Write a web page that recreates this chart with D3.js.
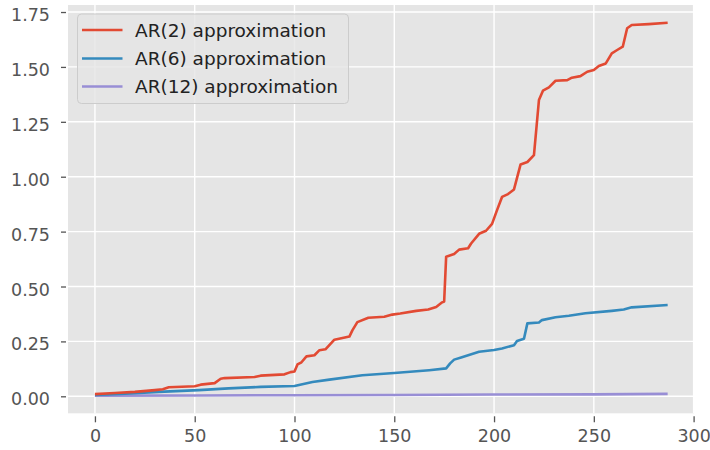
<!DOCTYPE html>
<html>
<head>
<meta charset="utf-8">
<script src="https://cdn.jsdelivr.net/npm/d3@7"></script>
<style>
  html, body { margin: 0; padding: 0; background: #ffffff; }
  svg { display: block; }
  text { font-family: "DejaVu Sans", sans-serif; }
</style>
</head>
<body>
<svg id="chart" width="710" height="450"></svg>
<script>
// AR(2) cumulative error
const ar2X = [0, 10, 20, 30, 34, 37, 50, 53, 60, 63, 65, 80, 83, 95, 98, 100, 101.5, 103.5, 106, 110,
  112.5, 115.5, 120, 127.5, 129, 131.5, 137, 145, 149, 153, 161, 167, 171, 174, 175, 176, 180, 182.5,
  187, 188.5, 192.5, 196, 199, 201.5, 204, 207, 210, 213.3, 216.7, 220, 222.5, 224.5, 227.5, 230.8,
  236.7, 239, 243.3, 246.7, 250, 252.5, 256, 259, 261.7, 264.5, 266.7, 269, 277.5, 287];
const ar2Y = [0.010, 0.015, 0.020, 0.028, 0.032, 0.041, 0.046, 0.053, 0.060, 0.080, 0.083, 0.088, 0.094,
  0.100, 0.110, 0.113, 0.145, 0.155, 0.182, 0.187, 0.210, 0.214, 0.258, 0.272, 0.300, 0.338, 0.358,
  0.362, 0.372, 0.377, 0.389, 0.395, 0.407, 0.428, 0.432, 0.636, 0.648, 0.668, 0.674, 0.696, 0.740,
  0.754, 0.785, 0.848, 0.908, 0.921, 0.942, 1.056, 1.067, 1.098, 1.349, 1.392, 1.407, 1.437, 1.440,
  1.451, 1.458, 1.478, 1.486, 1.504, 1.516, 1.562, 1.577, 1.592, 1.676, 1.691, 1.695, 1.701];

// AR(6) cumulative error
const ar6X = [0, 15, 32, 52, 67, 83, 100, 109, 117.5, 134, 150, 167.5, 176, 178, 180, 183.5, 192.5, 200,
  204, 210, 211.5, 215, 216.7, 222.5, 224, 230.8, 237.5, 245.8, 259, 265, 269, 287];
const ar6Y = [0.006, 0.012, 0.020, 0.028, 0.036, 0.043, 0.047, 0.065, 0.076, 0.096, 0.106, 0.119, 0.127,
  0.150, 0.167, 0.177, 0.203, 0.211, 0.218, 0.233, 0.252, 0.262, 0.332, 0.336, 0.347, 0.360, 0.367,
  0.378, 0.389, 0.395, 0.405, 0.416];

// AR(12) cumulative error
const ar12X = [0, 50, 100, 150, 200, 250, 287];
const ar12Y = [0.003, 0.004, 0.005, 0.006, 0.008, 0.009, 0.011];

const seriesNames = ["AR(2) approximation", "AR(6) approximation", "AR(12) approximation"];
const seriesColors = ["#E24A33", "#348ABD", "#988ED5"];
const xTicks = [0, 50, 100, 150, 200, 250, 300];
const yTicks = [0, 0.25, 0.5, 0.75, 1.0, 1.25, 1.5, 1.75];

const series = [
  { name: seriesNames[0], color: seriesColors[0], pts: ar2X.map((x, i) => [x, ar2Y[i]]) },
  { name: seriesNames[1], color: seriesColors[1], pts: ar6X.map((x, i) => [x, ar6Y[i]]) },
  { name: seriesNames[2], color: seriesColors[2], pts: ar12X.map((x, i) => [x, ar12Y[i]]) }
];

const plot = { left: 68, right: 694, top: 5, bottom: 413.3 };

const svg = d3.select("#chart");

const x = d3.scaleLinear().domain([-13.5, 300.2]).range([plot.left, plot.right]);
const y = d3.scaleLinear().domain([-0.0774, 1.782]).range([plot.bottom, plot.top]);

// panel background
svg.append("rect")
  .attr("x", plot.left).attr("y", plot.top)
  .attr("width", plot.right - plot.left).attr("height", plot.bottom - plot.top)
  .attr("fill", "#E5E5E5");

// grid
const grid = svg.append("g");
grid.selectAll("line.vx").data(xTicks).join("line")
  .attr("x1", d => x(d)).attr("x2", d => x(d))
  .attr("y1", plot.top).attr("y2", plot.bottom)
  .attr("stroke", "#ffffff").attr("stroke-width", 1.4);
grid.selectAll("line.hy").data(yTicks).join("line")
  .attr("y1", d => y(d)).attr("y2", d => y(d))
  .attr("x1", plot.left).attr("x2", plot.right)
  .attr("stroke", "#ffffff").attr("stroke-width", 1.4);

// axes
const xAxis = d3.axisBottom(x).tickValues(xTicks).tickFormat(d3.format("d"))
  .tickSizeInner(6).tickSizeOuter(0).tickPadding(6);
const gx = svg.append("g").attr("transform", `translate(0,${plot.bottom + 3})`).call(xAxis);
gx.select(".domain").remove();
gx.selectAll(".tick line").attr("stroke", "#555555").attr("stroke-width", 1.3);
gx.selectAll(".tick text")
  .attr("fill", "#555555").attr("font-size", 17.5)
  .attr("font-family", "DejaVu Sans, sans-serif")
  .attr("y", 26).attr("dy", null);

const yAxis = d3.axisLeft(y).tickValues(yTicks).tickFormat(d3.format(".2f"))
  .tickSizeInner(5).tickSizeOuter(0).tickPadding(11);
const gy = svg.append("g").attr("transform", `translate(${plot.left - 2},0)`).call(yAxis);
gy.select(".domain").remove();
gy.selectAll(".tick line").attr("stroke", "#555555").attr("stroke-width", 1.3);
gy.selectAll(".tick text")
  .attr("fill", "#555555").attr("font-size", 17.5)
  .attr("font-family", "DejaVu Sans, sans-serif")
  .attr("x", -16).attr("dy", null).attr("y", 8.5);

// lines
const line = d3.line().x(d => x(d[0])).y(d => y(d[1]));
svg.append("g").selectAll("path").data(series.slice().reverse()).join("path")
  .attr("d", d => line(d.pts))
  .attr("fill", "none")
  .attr("stroke", d => d.color)
  .attr("stroke-width", 2.6)
  .attr("stroke-linejoin", "round")
  .attr("stroke-linecap", "butt");

// legend
const legend = svg.append("g");
legend.append("rect")
  .attr("x", 77.5).attr("y", 14).attr("width", 271).attr("height", 89.5)
  .attr("rx", 4).attr("ry", 4)
  .attr("fill", "#E5E5E5").attr("fill-opacity", 0.8)
  .attr("stroke", "#CCCCCC").attr("stroke-width", 1);
const rowY = [30, 58.5, 86.5];
const items = legend.selectAll("g.item").data(series).join("g")
  .attr("transform", (d, i) => `translate(0,${rowY[i]})`);
items.append("line")
  .attr("x1", 82).attr("x2", 122.5).attr("y1", 0).attr("y2", 0)
  .attr("stroke", d => d.color).attr("stroke-width", 2.6);
items.append("text")
  .attr("x", 135).attr("y", 6.8)
  .attr("font-size", 18.5).attr("fill", "#222222")
  .text(d => d.name);
</script>
</body>
</html>
